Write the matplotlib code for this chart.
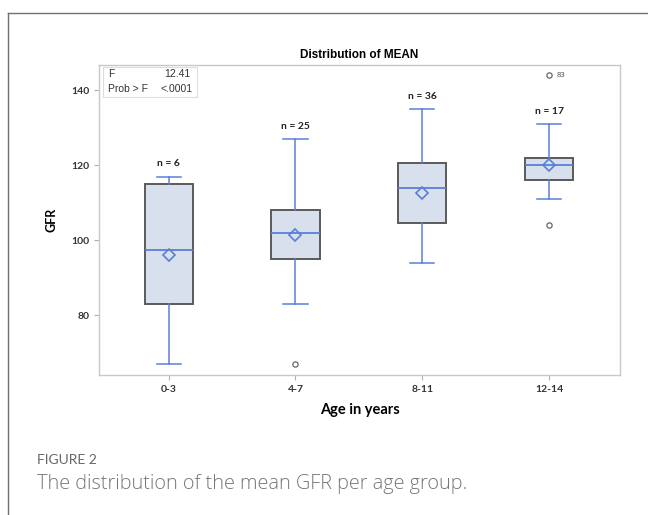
import matplotlib
matplotlib.use("Agg")
import matplotlib.pyplot as plt
from matplotlib.lines import Line2D
from matplotlib.patches import Rectangle

# ---- data ----
groups = ["0-3", "4-7", "8-11", "12-14"]
n_obs = [6, 25, 36, 17]
whislo = [67, 83, 94, 111]
q1 = [83, 95, 104.5, 116]
med = [97.5, 102, 114, 120]
q3 = [115, 108, 120.5, 122]
whishi = [117, 127, 135, 131]
means = [96, 101.3, 112.6, 120.2]
fliers = [[], [67], [], [104, 144]]
flier_labels = {3: (144, "83")}
yticks = [80, 100, 120, 140]
f_value = "12.41"
p_value = "<.0001"

W, H = 648, 515
fig = plt.figure(figsize=(W / 100, H / 100), dpi=100)

# card frame (left and top border)
fig.add_artist(Line2D([8 / W, 8 / W], [0, 1 - 13 / H], transform=fig.transFigure,
                      color="#707070", lw=1.0))
fig.add_artist(Line2D([8 / W, 1], [1 - 13 / H, 1 - 13 / H], transform=fig.transFigure,
                      color="#707070", lw=1.0))

ax = fig.add_axes([99 / W, 1 - 375 / H, (620 - 99) / W, (375 - 65) / H])

blue = "#5b7fd6"
stats = []
for i in range(len(groups)):
    stats.append(dict(label=groups[i], whislo=whislo[i], q1=q1[i], med=med[i],
                      q3=q3[i], whishi=whishi[i], mean=means[i], fliers=fliers[i]))

ax.bxp(stats, positions=range(1, len(groups) + 1), widths=0.38, patch_artist=True,
       showmeans=True, showfliers=True,
       boxprops=dict(facecolor="#d7e0ec", edgecolor="#5a5a5a", lw=1.4),
       medianprops=dict(color=blue, lw=1.3),
       whiskerprops=dict(color=blue, lw=1.1),
       capprops=dict(color=blue, lw=1.1),
       capwidths=0.19,
       meanprops=dict(marker="D", markerfacecolor="none", markeredgecolor=blue,
                      markersize=6, markeredgewidth=1.2),
       flierprops=dict(marker="o", markerfacecolor="none", markeredgecolor="#666666",
                       markersize=3.8, markeredgewidth=0.9))

for i, n in enumerate(n_obs):
    ax.text(i + 1, whishi[i] + 2.3, f"n = {n}", ha="center", va="bottom",
            fontsize=7.5, family="Lato", fontweight="bold", color="#222222")

for i, (yv, lab) in flier_labels.items():
    ax.text(i + 1 + 0.06, yv, lab, ha="left", va="center", fontsize=5.5,
            family="Open Sans", color="#444444")

ax.set_xlim(0.45, 4.56)
ax.set_ylim(64, 146.8)
ax.set_yticks(yticks)
ax.set_xticks(range(1, len(groups) + 1))
ax.set_xticklabels(groups)
for sp in ax.spines.values():
    sp.set_color("#c8c8c8")
    sp.set_linewidth(1.0)
ax.tick_params(axis="both", colors="#b0b0b0", length=3.5, width=0.8,
               labelsize=7.5, labelcolor="#333333")
for t in ax.get_xticklabels() + ax.get_yticklabels():
    t.set_family("Lato")
    t.set_fontweight("bold")

ax.set_title("Distribution of MEAN", fontsize=8.5, fontweight="bold",
             family="Liberation Sans", pad=5)
ax.set_xlabel("Age in years", fontsize=10.5, fontweight="bold", family="Lato", labelpad=7)
ax.set_ylabel("GFR", fontsize=9, fontweight="bold", family="Lato", labelpad=10)

# statistics inset
ax.add_patch(Rectangle((0.0077, 0.897), 0.18, 0.0965, transform=ax.transAxes,
                       facecolor="white", edgecolor="#dddddd", lw=0.8, zorder=3))
ax.text(0.017, 0.972, "F", transform=ax.transAxes, ha="left", va="center",
        fontsize=7.5, family="Liberation Sans", color="#333333", zorder=4)
ax.text(0.017, 0.923, "Prob > F", transform=ax.transAxes, ha="left", va="center",
        fontsize=7.5, family="Liberation Sans", color="#333333", zorder=4)
ax.text(0.175, 0.972, f_value, transform=ax.transAxes, ha="right", va="center",
        fontsize=7.5, family="Liberation Sans", color="#333333", zorder=4)
ax.text(0.179, 0.923, p_value, transform=ax.transAxes, ha="right", va="center",
        fontsize=7.5, family="Liberation Sans", color="#333333", zorder=4)

fig.text(37 / W, 1 - 460 / H, "FIGURE 2", fontsize=10, family="Lato",
         color="#666666", ha="left", va="center")
fig.text(37 / W, 1 - 484 / H, "The distribution of the mean GFR per age group.",
         fontsize=14.3, family="Open Sans", fontweight="light", color="#777777",
         ha="left", va="center")

fig.savefig("out.png", dpi=100)
